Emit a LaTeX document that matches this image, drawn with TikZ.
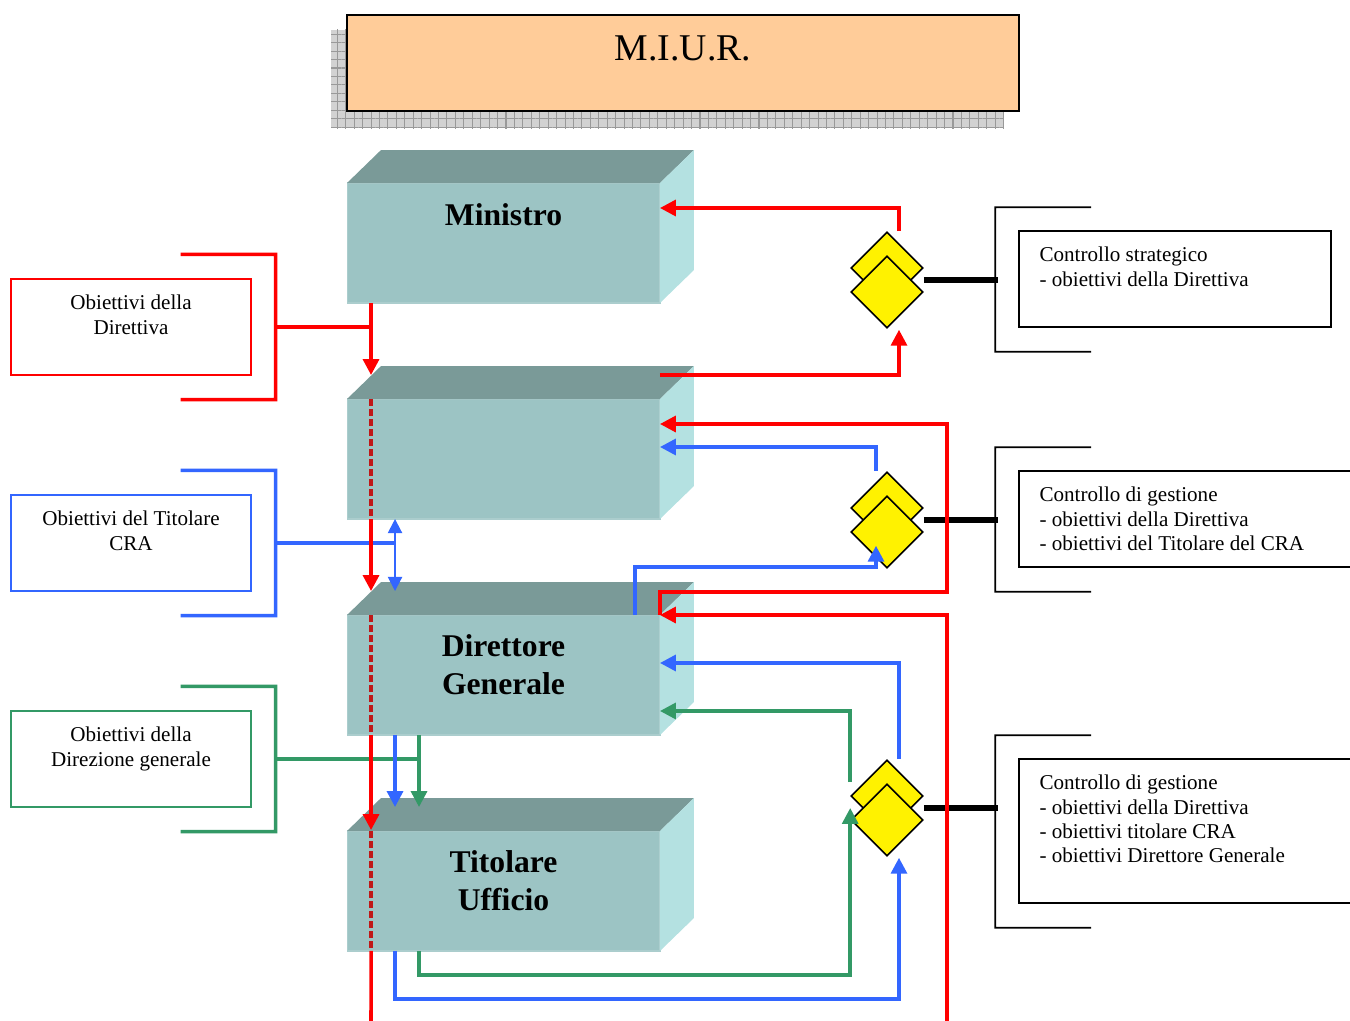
\documentclass[tikz,border=0pt]{standalone}
\usepackage{fontspec}
\setmainfont{Liberation Serif}
\usepackage{tikz}
\usetikzlibrary{positioning, shapes.geometric, arrows.meta, calc, patterns, patterns.meta}
\definecolor{miurorange}{HTML}{FFCC99}
\definecolor{boxfront}{HTML}{9CC4C4}
\definecolor{boxtop}{HTML}{7A9A98}
\definecolor{boxside}{HTML}{B4E1E1}
\definecolor{ctrlblue}{HTML}{3366FF}
\definecolor{ctrlgreen}{HTML}{339966}
\definecolor{dashred}{HTML}{C01818}
\tikzset{
    frontface/.style={
        fill = boxfront, draw = boxfront!85!white, line width = 0.6pt,
        minimum width = 6.26cm, minimum height = 2.4cm,
        inner sep = 0pt, outer sep = 0pt
    },
    topface/.style = {fill = boxtop},
    sideface/.style = {fill = boxside},
    boxtext/.style = {font = \fontsize{18}{21.5}\selectfont\bfseries, align = center, inner sep = 0pt},
    objbox/.style = {draw, line width = 0.8pt, minimum width = 4.8cm, minimum height = 1.92cm, inner sep = 0pt},
    objtext/.style = {font = \fontsize{12}{13.9}\selectfont, align = center, inner sep = 0pt},
    ctrlbox/.style = {draw, line width = 0.9pt, minimum height = 1.92cm, inner sep = 0pt},
    ctrltext/.style = {font = \fontsize{12}{13.9}\selectfont, align = left, inner sep = 0pt},
    check/.style = {
        diamond, draw, fill = yellow, line width = 0.9pt,
        minimum width = 1.44cm, minimum height = 1.44cm, inner sep = 0pt
    },
    redline/.style = {draw = red, line width = 2pt},
    blueline/.style = {draw = ctrlblue, line width = 2pt},
    greenline/.style = {draw = ctrlgreen, line width = 2pt},
    dashline/.style = {draw = dashred, line width = 1.9pt, dash pattern = on 3.8pt off 1.9pt},
    line/.style = {-{Triangle[length=9pt, width=9pt]}},
    link/.style = {line width = 3pt},
    bracket/.style = {line width = 0.9pt}
}
\newcommand{\cubefaces}[1]{%
    \fill[topface] (#1.north west) -- ++(34,-33) -- ++(313,0) -- (#1.north east) -- cycle;
    \fill[sideface] (#1.north east) -- ++(34,-33) -- ++(0,120) -- (#1.south east) -- cycle;
}

\begin{document}
\begin{tikzpicture}[x=0.02cm, y=-0.02cm]

    \useasboundingbox (0,0) rectangle (1350,1021);
    \clip (0,0) rectangle (1350,1021);

    % M.I.U.R.
    \node[draw, fill = miurorange, line width = 1.2pt, minimum width = 13.44cm,
        minimum height = 1.92cm, inner sep = 0pt] (miur) at (683,63) {};
    \path[fill = gray!35,
        postaction={pattern={Lines[angle=0,line width=0.6pt,distance={4.8pt}]},pattern color=gray!80},
        postaction={pattern={Lines[angle=90,line width=0.6pt,distance={4.8pt}]},pattern color=gray!80}
    ] ([shift={(-0.3cm,-0.32cm)}]miur.north west) rectangle ([shift={(-0.32cm,-0.32cm)}]miur.south east);
    \node[draw, fill = miurorange, line width = 1.2pt, minimum width = 13.44cm,
        minimum height = 1.92cm, inner sep = 0pt] at (miur) {};
    \node[font = \fontsize{21.5}{26}\selectfont, inner sep = 0pt, below = 0.42cm of miur.north] {M.I.U.R.};

    % Blocks
    \node[frontface] (min) at (503.5,243) {};
    \node[frontface] (cra) at (503.5,459) {};
    \node[frontface] (dg) at (503.5,675) {};
    \node[frontface] (tu) at (503.5,891) {};
    \foreach \b in {min, cra, dg, tu} {\cubefaces{\b}}

    \node[boxtext] at ([yshift=0.56cm]min.center) {Ministro};
    \node[boxtext] at ([yshift=0.21cm]dg.center) {Direttore\\Generale};
    \node[boxtext] at ([yshift=0.21cm]tu.center) {Titolare\\Ufficio};

    % Objectives (left)
    \node[objbox, draw = red] (objdir) at (131,327) {};
    \node[objtext, below = 0.33cm of objdir.north] {Obiettivi della\\Direttiva};
    \node[objbox, draw = ctrlblue] (objcra) at (131,543) {};
    \node[objtext, below = 0.33cm of objcra.north] {Obiettivi del Titolare\\CRA};
    \node[objbox, draw = ctrlgreen] (objdg) at (131,759) {};
    \node[objtext, below = 0.33cm of objdg.north] {Obiettivi della\\Direzione generale};

    \draw[redline] ([shift={(-1.42cm,0.48cm)}]objdir.north east) -- ++(1.9cm,0)
        -- ([shift={(0.48cm,-0.48cm)}]objdir.south east) -- ++(-1.9cm,0);
    \draw[blueline] ([shift={(-1.42cm,0.48cm)}]objcra.north east) -- ++(1.9cm,0)
        -- ([shift={(0.48cm,-0.48cm)}]objcra.south east) -- ++(-1.9cm,0);
    \draw[greenline] ([shift={(-1.42cm,0.48cm)}]objdg.north east) -- ++(1.9cm,0)
        -- ([shift={(0.48cm,-0.48cm)}]objdg.south east) -- ++(-1.9cm,0);

    \draw[redline] ([xshift=0.48cm]objdir.east) -- ([xshift=0.48cm]min.south west |- objdir.east);
    \draw[blueline] ([xshift=0.48cm]objcra.east) -- ([xshift=0.96cm]cra.south west |- objcra.east);
    \draw[greenline] ([xshift=0.48cm]objdg.east) -- ([xshift=1.44cm]dg.south west |- objdg.east);

    % Red spine
    \draw[redline, line] ([xshift=0.48cm]min.south west) -- ([xshift=0.48cm, yshift=0.48cm]cra.north west);
    \draw[dashline] ([xshift=0.48cm]cra.north west) -- ([xshift=0.48cm]cra.south west);
    \draw[redline, line] ([xshift=0.48cm]cra.south west) -- ([xshift=0.48cm, yshift=0.48cm]dg.north west);
    \draw[dashline] ([xshift=0.48cm]dg.north west) -- ([xshift=0.48cm]dg.south west);
    \draw[redline, line] ([xshift=0.48cm]dg.south west) -- ([xshift=0.48cm, yshift=0.02cm]tu.north west);
    \draw[dashline] ([xshift=0.48cm]tu.north west) -- ([xshift=0.48cm]tu.south west);
    \coordinate (redend) at (371,1021);
    \draw[redline] ([xshift=0.48cm]tu.south west) -- (redend);

    % Blue and green drops
    \draw[ctrlblue, line width = 1.1pt, {Triangle[length=8pt, width=8pt]}-{Triangle[length=8pt, width=8pt]}]
        ([xshift=0.96cm]cra.south west) -- ([xshift=0.96cm, yshift=0.48cm]dg.north west);
    \draw[blueline, line] ([xshift=0.96cm]dg.south west) -- ([xshift=0.96cm, yshift=0.48cm]tu.north west);
    \draw[greenline, line] ([xshift=1.44cm]dg.south west) -- ([xshift=1.44cm, yshift=0.48cm]tu.north west);

    % Checks
    \node[check] (chk1a) at (887,268) {};
    \node[check] (chk1b) at (887,292) {};
    \node[check] (chk2a) at (887,508) {};
    \node[check] (chk2b) at (887,532) {};
    \node[check] (chk3a) at (887,796) {};
    \node[check] (chk3b) at (887,820) {};

    % Controls (right)
    \node[ctrlbox, minimum width = 6.24cm] (cs) at (1175,279) {};
    \node[ctrltext, below right = 0.33cm and 0.42cm of cs.north west]
        {Controllo strategico\\- obiettivi della Direttiva};
    \node[ctrlbox, minimum width = 6.86cm] (cg1) at (1190.5,519) {};
    \node[ctrltext, below right = 0.33cm and 0.42cm of cg1.north west]
        {Controllo di gestione\\- obiettivi della Direttiva\\- obiettivi del Titolare del CRA};
    \node[ctrlbox, minimum width = 6.86cm, minimum height = 2.88cm] (cg2) at (1190.5,831) {};
    \node[ctrltext, below right = 0.33cm and 0.42cm of cg2.north west]
        {Controllo di gestione\\- obiettivi della Direttiva\\- obiettivi titolare CRA\\- obiettivi Direttore Generale};

    \foreach \c in {cs, cg1, cg2} {
        \draw[bracket] ([shift={(1.46cm,0.46cm)}]\c.north west) -- ++(-1.92cm,0)
            -- ([shift={(-0.46cm,-0.48cm)}]\c.south west) -- ++(1.92cm,0);
    }
    \foreach \i in {1,2,3} {
        \draw[link] ($(chk\i a.east)!0.5!(chk\i b.east)$) -- ++(1.48cm,0);
    }

    % Feedback, level 1
    \draw[redline, line] ([xshift=0.24cm]chk1a.north) |- ([yshift=0.7cm]min.east);
    \draw[redline, line] ([yshift=0.48cm]cra.north east) -| ([xshift=0.24cm, yshift=-0.02cm]chk1b.south);

    % Feedback, level 2
    \draw[redline, line] (dg.north east) -- ++(0,0.46cm) -- ++(5.74cm,0) |- ([yshift=0.7cm]cra.east);
    \draw[blueline, line] ([xshift=-0.22cm]chk2a.north) |- ([yshift=0.24cm]cra.east);
    \draw[blueline, line] ([xshift=-0.5cm]dg.north east) -- ++(0,0.96cm)
        -| ([xshift=-0.22cm, yshift=0.46cm]chk2b.south);

    % Feedback, level 3
    \coordinate (redfeed) at (947,1021);
    \draw[redline, line] (redfeed) |- (dg.north east);
    \draw[blueline, line] ([xshift=0.24cm]chk3a.north) |- ([yshift=0.24cm]dg.east);
    \draw[greenline, line] ([yshift=0.28cm]chk3a.west) |- ([yshift=-0.72cm]dg.east);
    \draw[greenline, line] ([xshift=1.44cm]tu.south west) -- ++(0,-0.48cm) -| ([yshift=0.24cm]chk3b.west);
    \draw[blueline, line] ([xshift=0.96cm]tu.south west) -- ++(0,-0.96cm)
        -| ([xshift=0.24cm, yshift=-0.02cm]chk3b.south);

\end{tikzpicture}
\end{document}
